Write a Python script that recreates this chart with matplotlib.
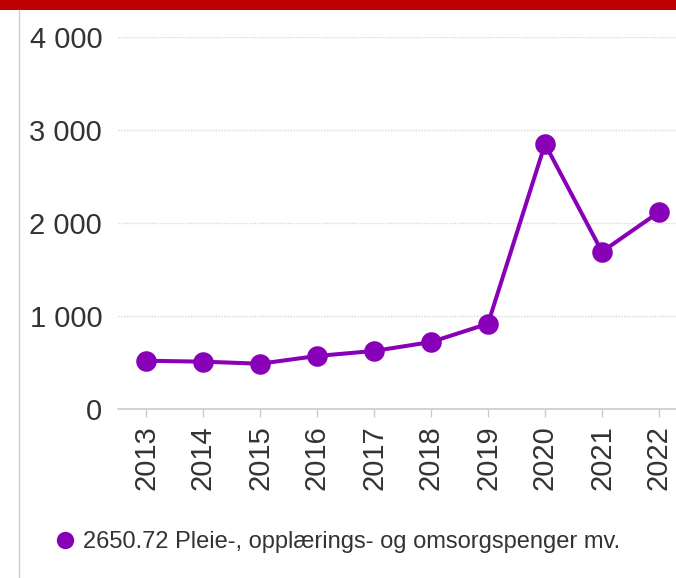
import matplotlib
matplotlib.use("Agg")
import matplotlib.pyplot as plt
from matplotlib.lines import Line2D
from matplotlib.patches import Rectangle

plt.rcParams['font.family'] = ['Liberation Sans', 'DejaVu Sans']

years = ["2013", "2014", "2015", "2016", "2017", "2018", "2019", "2020", "2021", "2022"]
values = [519, 509, 487, 570, 624, 720, 917, 2849, 1691, 2118]
y_ticks = [0, 1000, 2000, 3000, 4000]
y_tick_labels = ["0", "1 000", "2 000", "3 000", "4 000"]
series_label = "2650.72 Pleie-, opplærings- og omsorgspenger mv."

W, H = 676, 578
fig = plt.figure(figsize=(W / 100, H / 100), dpi=100)
fig.patch.set_facecolor('white')

purple = '#8800b8'
text_col = '#333333'
grid_col = '#cccccc'

ax = fig.add_axes([117.5 / W, (H - 409) / H, 570 / W, 372 / H])
x = list(range(len(years)))
ax.plot(x, values, color=purple, lw=2.9, marker='o', markersize=14.8,
        markeredgewidth=0, clip_on=False, zorder=3)
ax.set_xlim(-0.5, len(years) - 0.5)
ax.set_ylim(0, 4000)
ax.set_yticks(y_ticks)
ax.set_yticklabels(y_tick_labels)
ax.set_xticks(x)
ax.set_xticklabels(years, rotation=90)
ax.tick_params(axis='y', length=0, pad=11, labelsize=21, labelcolor=text_col)
ax.tick_params(axis='x', length=5.8, width=1, color=grid_col, pad=6,
               labelsize=21, labelcolor=text_col)
for s in ['top', 'right', 'left']:
    ax.spines[s].set_visible(False)
ax.spines['bottom'].set_color(grid_col)
ax.spines['bottom'].set_linewidth(1.2)
ax.yaxis.grid(True, color='#d8d8d8', linestyle=(0, (1, 1)), lw=1)
ax.set_axisbelow(True)
ax.patch.set_alpha(0)

# top red bar and left border line
fig.add_artist(Rectangle((0, 1 - 10 / H), 1, 10 / H, transform=fig.transFigure,
                         facecolor='#c00000', edgecolor='none'))
fig.add_artist(Line2D([19 / W, 19 / W], [0, 1 - 10 / H], transform=fig.transFigure,
                      color='#cccccc', lw=1))

# legend
handle = Line2D([], [], color=purple, marker='o', linestyle='none', markersize=12.5,
                markeredgewidth=0)
fig.legend([handle], [series_label], loc='center left',
           bbox_to_anchor=(53 / W, (H - 542) / H), frameon=False, fontsize=17,
           handletextpad=0.25, handlelength=1.0, labelcolor=text_col,
           borderaxespad=0, borderpad=0)

fig.savefig('out.png', dpi=100)
